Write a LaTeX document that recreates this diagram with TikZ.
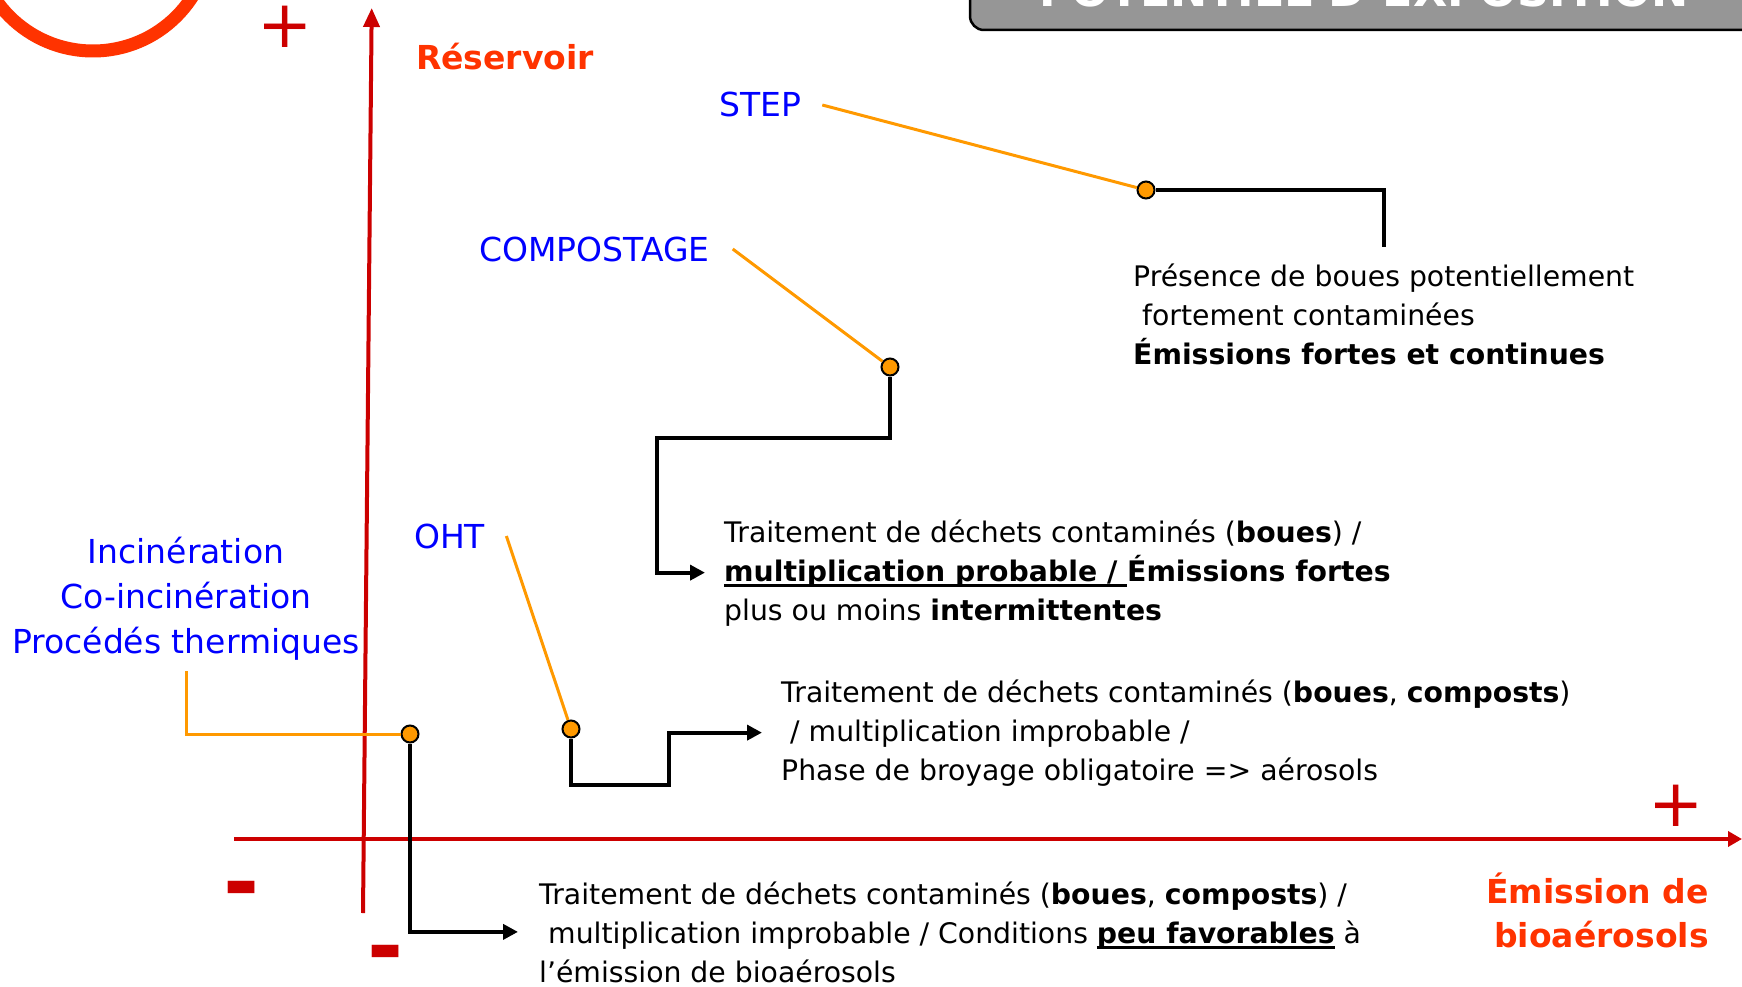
\documentclass[tikz,border=0pt]{standalone}
\usepackage{fontspec}
\setmainfont{DejaVu Sans}
\usetikzlibrary{arrows.meta,positioning}

\definecolor{axisred}{RGB}{204,0,0}
\definecolor{titlered}{RGB}{255,51,0}
\definecolor{labelblue}{RGB}{0,0,255}
\definecolor{leadorange}{RGB}{255,153,0}
\definecolor{boxgray}{RGB}{150,150,150}

% bold text with a thick underline
\newcommand{\ulbold}[1]{\sbox0{\bfseries #1}\rlap{\rule[-6pt]{\wd0}{3pt}}\usebox0}

\tikzset{
  axis/.style={draw=axisred, line width=4pt},
  sign/.style={text=axisred, font=\fontsize{66}{66}\selectfont, inner sep=0},
  minus/.style={text=axisred, font=\bfseries\fontsize{87}{87}\selectfont, inner sep=0},
  axislabel/.style={text=titlered, font=\bfseries\fontsize{33}{44}\selectfont, inner sep=0},
  lbl/.style={text=labelblue, font=\fontsize{33}{45}\selectfont, inner sep=0},
  desc/.style={font=\fontsize{28.3}{39}\selectfont, align=left, inner sep=0, anchor=base west},
  dot/.style={circle, draw=black, fill=leadorange, line width=2pt, inner sep=0, minimum size=17pt},
  lead/.style={draw=leadorange, line width=3pt},
  link/.style={draw=black, line width=4pt},
  linkarrow/.style={link, -{Triangle[length=15pt,width=15pt]}}
}

\begin{document}
\begin{tikzpicture}[x=1pt,y=-1pt]
    \useasboundingbox (0,0) rectangle (1742,987);

    % ring and title box, cut by the page edge
    \draw[titlered, line width=13pt] (93,-67) circle[radius=118];
    \draw[fill=boxgray, draw=black, line width=2.5pt, rounded corners=14pt]
        (970,-80) rectangle (1800,30);
    \node[text=white, font=\bfseries\fontsize{44.5}{44.5}\selectfont, inner sep=0,
          anchor=base west] (titre) at (1039,6.5) {POTENTIEL D'EXPOSITION};

    % axes
    \coordinate (yBas) at (363,913);
    \coordinate (yHaut) at (371.7,8);
    \coordinate (xGauche) at (234,839);
    \coordinate (xDroite) at (1742,839);
    \draw[axis, -{Triangle[length=19pt,width=16pt]}] (yBas) -- (yHaut);
    \draw[axis, -{Triangle[length=14pt,width=15pt]}] (xGauche) -- (xDroite);

    \node[sign] (plusY) at (285,27) {+};
    \node[sign] (plusX) at (1676,806) {+};
    \node[minus] (minusX) at (242,897) {-};
    \node[minus] (minusY) at (386,961) {-};

    \node[axislabel, anchor=base west] (reservoir) at (416,70) {Réservoir};
    \node[axislabel, align=right, anchor=base east] (emission) at (1709,947)
        {Émission de\\bioaérosols};

    % activities
    \node[lbl, anchor=base west] (step) at (719,117) {STEP};
    \node[lbl, anchor=base west] (compost) at (479,261) {COMPOSTAGE};
    \node[lbl, anchor=base west] (oht) at (414,548) {OHT};
    \node[lbl, align=center, anchor=base] (incin) at (186,653)
        {Incinération\\Co-incinération\\Procédés thermiques};

    % descriptions (anchored on their last line)
    \node[desc] (stepTxt) at (1133,364)
        {Présence de boues potentiellement\\
         \hspace*{9pt}fortement contaminées\\
         \textbf{Émissions fortes et continues}};
    \node[desc] (compostTxt) at (724,620)
        {Traitement de déchets contaminés (\textbf{boues}) /\\
         \ulbold{multiplication probable /\ }\textbf{Émissions fortes}\\
         plus ou moins \textbf{intermittentes}};
    \node[desc] (ohtTxt) at (781,780)
        {Traitement de déchets contaminés (\textbf{boues}, \textbf{composts})\\
         \hspace*{9pt}/ multiplication improbable /\\
         Phase de broyage obligatoire => aérosols};
    \node[desc] (incinTxt) at (539,982)
        {Traitement de déchets contaminés (\textbf{boues}, \textbf{composts}) /\\
         \hspace*{9pt}multiplication improbable / Conditions \ulbold{peu favorables} à\\
         l’émission de bioaérosols};

    % dots
    \node[dot] (dStep) at (1146,190) {};
    \node[dot] (dCompost) at (890,367) {};
    \node[dot] (dOht) at (571,729) {};
    \node[dot] (dIncin) at (410,734) {};

    % leaders
    \draw[lead] ([xshift=21pt]step.east) -- (dStep);
    \draw[lead] ([xshift=23pt]compost.east) -- (dCompost);
    \draw[lead] ([xshift=21pt]oht.east) -- (dOht);
    \draw[lead] ([yshift=-11pt]incin.south) |- (dIncin);

    % links to the descriptions
    \draw[link] (dStep) -| ([yshift=16pt]stepTxt.north);
    \draw[linkarrow] (dCompost) -- ++(0,71) -- ++(-233,0) |- ([xshift=-19pt]compostTxt.west);
    \draw[linkarrow] (dOht) -- ++(0,56) -- ++(98,0) |- ([xshift=-19pt]ohtTxt.west);
    \draw[linkarrow] (dIncin) |- ([xshift=-21pt]incinTxt.west);
\end{tikzpicture}
\end{document}
